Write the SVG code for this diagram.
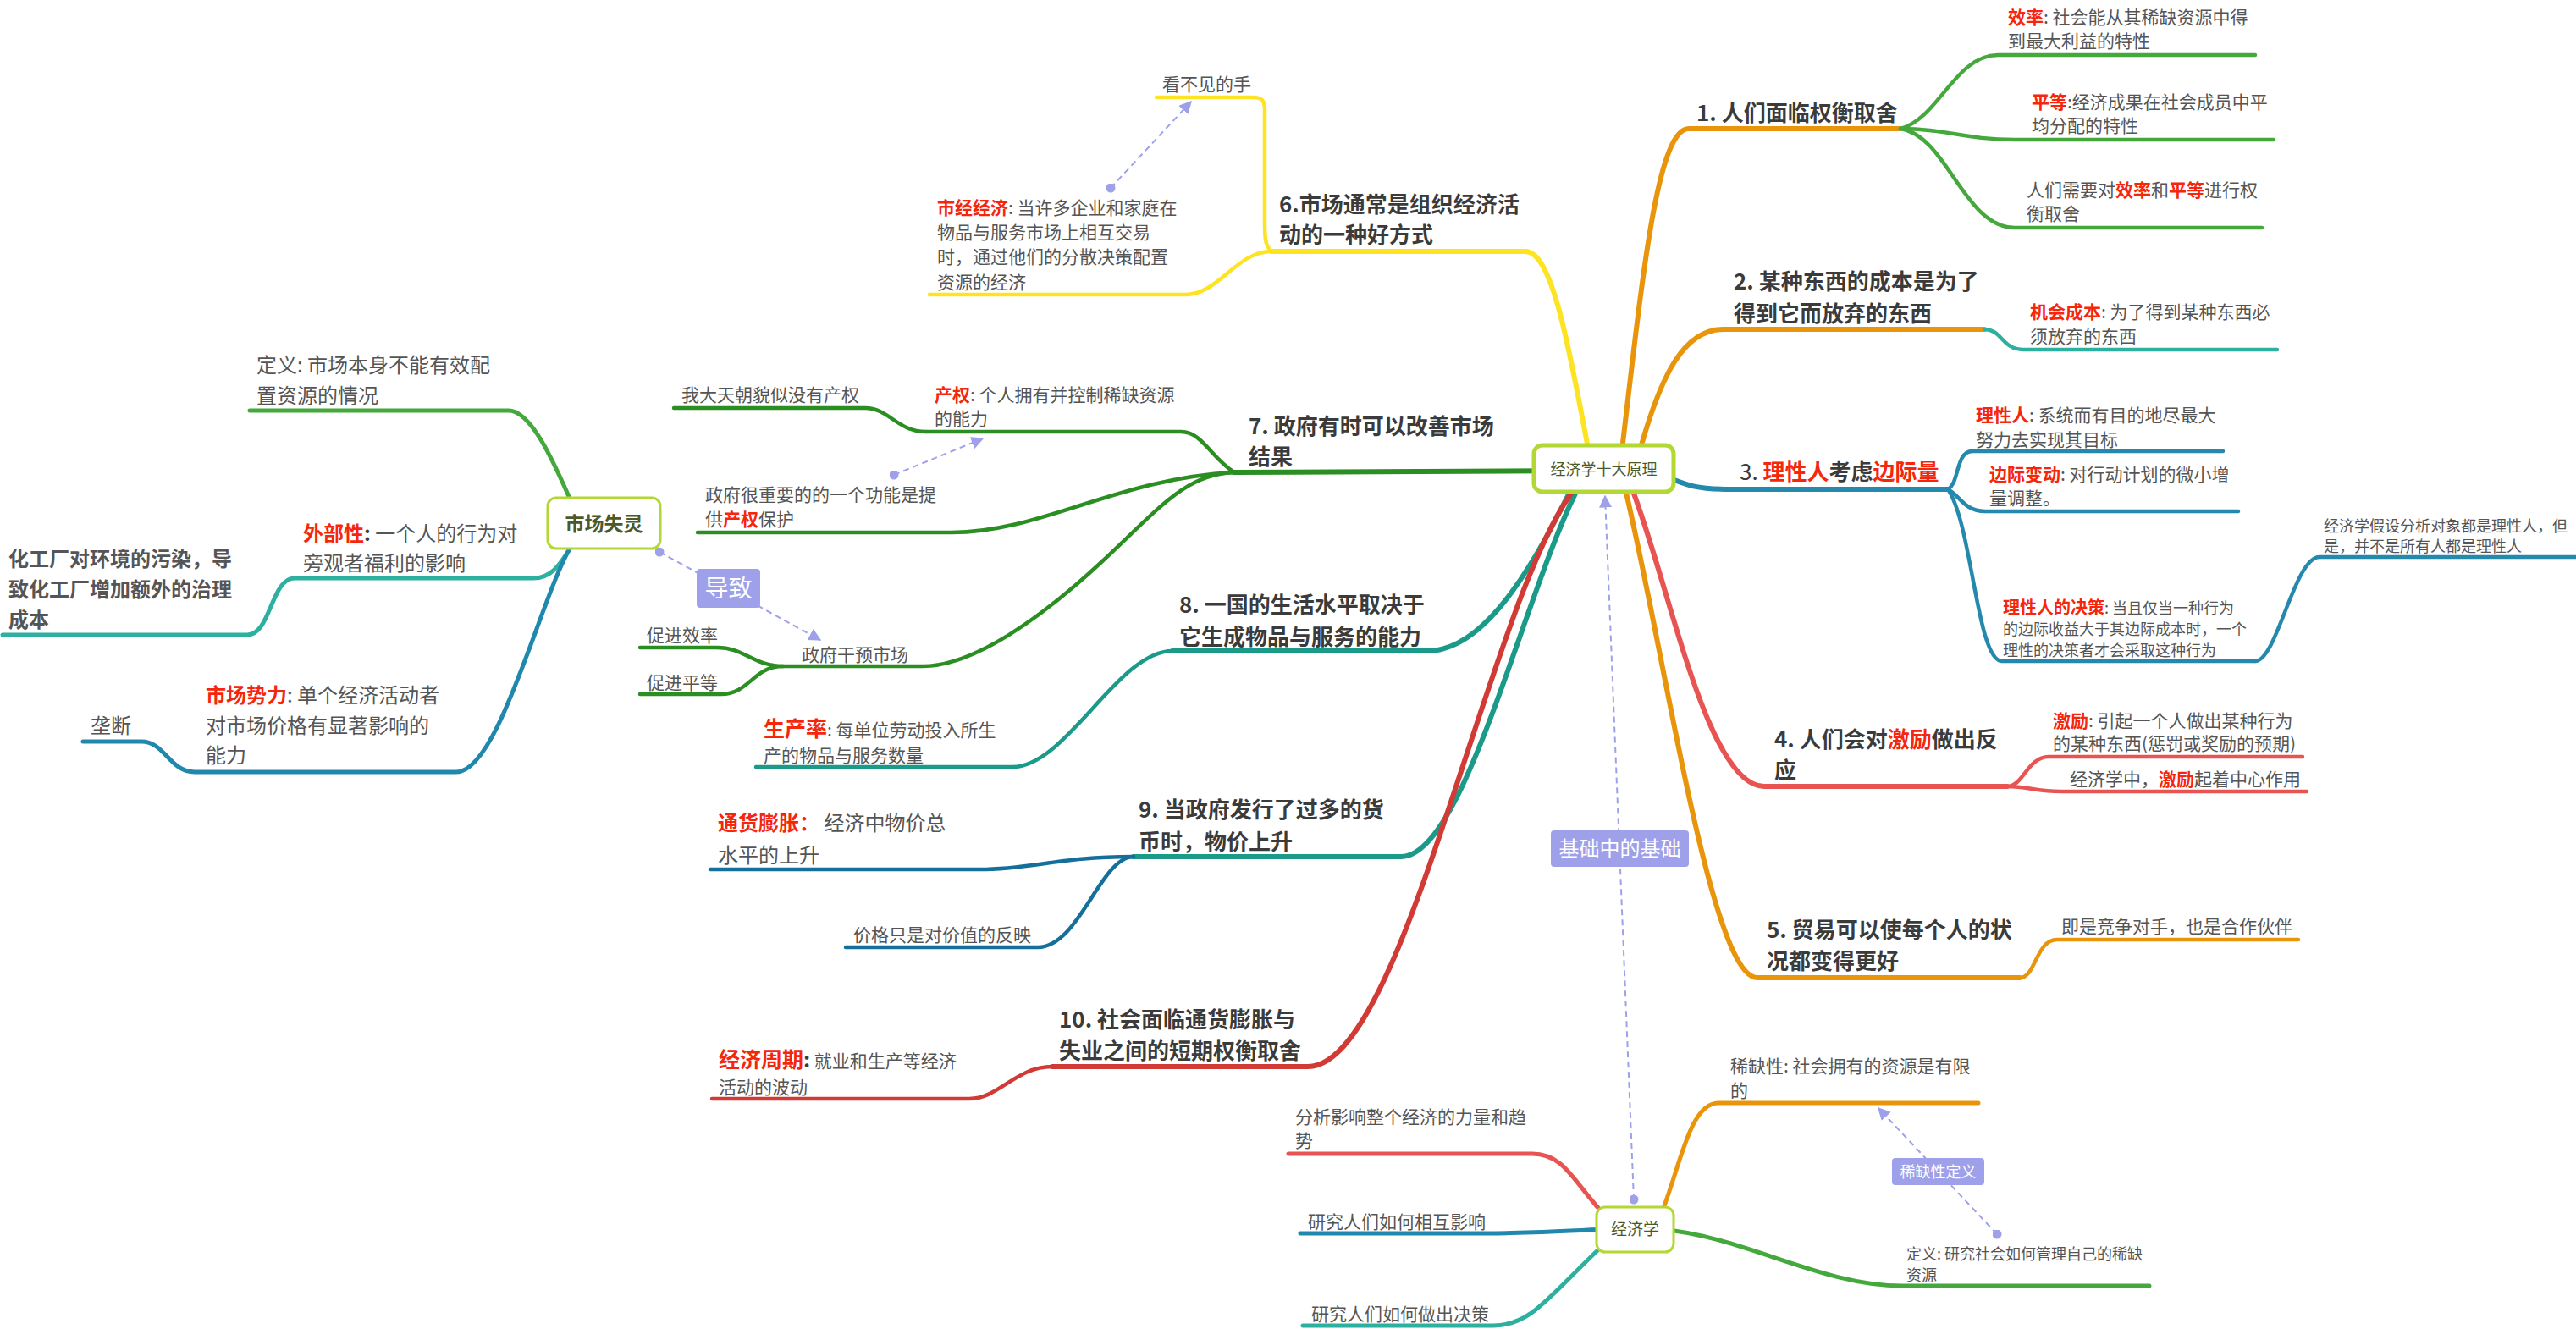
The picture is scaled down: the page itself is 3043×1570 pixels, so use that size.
<svg xmlns="http://www.w3.org/2000/svg" width="3043" height="1570" viewBox="0 0 3043 1570">
<style>
text { font-family: "Noto Sans CJK SC", "Liberation Sans", sans-serif; }
.t { font-size:26px; font-weight:bold; fill:#3b3b3b; }
.n { font-size:21px; fill:#555; }
.s { font-size:18px; fill:#555; }
.m { font-size:24px; fill:#555; }
.r { fill:#f5260c; font-weight:bold; }
.c { fill:none; stroke-linecap:round; stroke-linejoin:round; }
.w6 { stroke-width:6; }
.w5 { stroke-width:5; }
.w4 { stroke-width:4.5; }
.rel { fill:none; stroke:#9ea1e9; stroke-width:2; stroke-dasharray:7 5; marker-start:url(#dot); marker-end:url(#arr); }
.lbl { fill:#9ea1e9; }
.lt { fill:#fff; }
.box { fill:#fff; stroke:#b3d834; }
.bt { fill:#4b5a2b; }
</style>
<defs>
<marker id="arr" viewBox="0 0 10 10" refX="9" refY="5" markerWidth="15" markerHeight="15" markerUnits="userSpaceOnUse" orient="auto"><path d="M0,0 L10,5 L0,10 z" fill="#9ea1e9"/></marker>
<marker id="dot" viewBox="0 0 10 10" refX="5" refY="5" markerWidth="11" markerHeight="11" markerUnits="userSpaceOnUse"><circle cx="5" cy="5" r="5" fill="#9ea1e9"/></marker>
</defs>
<rect width="3043" height="1570" fill="#fff"/>

<g id="connectors">
<!-- root branches -->
<path class="c w6" stroke="#e9950c" d="M1915 540 C1940 330 1957 152 1995 152 L2245 152"/>
<path class="c w6" stroke="#e9950c" d="M1935 540 C1962 440 1990 389 2036 389 L2344 389"/>
<path class="c w6" stroke="#2589ad" d="M1960 560 C1990 572 2000 578 2044 578 L2301 578"/>
<path class="c w6" stroke="#e85452" d="M1925 570 C1970 680 2015 929 2084 929 L2371 929"/>
<path class="c w6" stroke="#e9950c" d="M1918 570 C1965 760 2020 1155 2076 1155 L2386 1155"/>
<path class="c w6" stroke="#fde322" d="M1878 540 C1855 420 1835 297 1802 297 L1502 297"/>
<path class="c w6" stroke="#2b8e22" d="M1870 556 L1458 558"/>
<path class="c w6" stroke="#1b9a89" d="M1860 570 C1820 650 1760 769 1686 769 L1385 769"/>
<path class="c w6" stroke="#1b9a89" d="M1865 575 C1800 700 1730 1012 1655 1012 L1339 1012"/>
<path class="c w6" stroke="#d23a35" d="M1862 575 C1760 700 1660 1260 1545 1260 L1243 1260"/>
<!-- 1 children -->
<path class="c w4" stroke="#45a83c" d="M2245 152 C2290 140 2310 65 2360 65 L2664 65"/>
<path class="c w4" stroke="#45a83c" d="M2245 152 C2300 152 2320 165 2380 165 L2686 165"/>
<path class="c w4" stroke="#45a83c" d="M2245 152 C2300 160 2320 269 2380 269 L2672 269"/>
<!-- 2 child -->
<path class="c w4" stroke="#2db0a0" d="M2344 389 C2365 389 2365 413 2390 413 L2690 413"/>
<!-- 3 children -->
<path class="c w4" stroke="#2589ad" d="M2301 578 C2315 570 2310 533 2330 533 L2626 533"/>
<path class="c w4" stroke="#2589ad" d="M2301 578 C2315 585 2320 604 2345 604 L2644 604"/>
<path class="c w4" stroke="#2589ad" d="M2301 578 C2330 620 2335 781 2365 781 L2664 781"/>
<path class="c w4" stroke="#2589ad" d="M2664 781 C2690 781 2710 658 2740 658 L3043 658"/>
<!-- 4 children -->
<path class="c w4" stroke="#e85452" d="M2371 929 C2390 929 2395 894 2420 894 L2720 894"/>
<path class="c w4" stroke="#e85452" d="M2371 929 C2395 929 2405 935 2435 935 L2725 935"/>
<!-- 5 child -->
<path class="c w4" stroke="#e9950c" d="M2386 1155 C2405 1155 2405 1110 2430 1110 L2715 1110"/>
<!-- 6 children -->
<path class="c w4" stroke="#fde322" d="M1502 297 C1494 290 1494 280 1494 260 L1494 130 C1494 118 1490 115 1480 115 L1366 115"/>
<path class="c w4" stroke="#fde322" d="M1502 297 C1460 297 1440 348 1400 348 L1098 348"/>
<!-- 7 children -->
<path class="c w4" stroke="#2b8e22" d="M1458 558 C1430 540 1420 510 1395 510 L1094 510"/>
<path class="c w4" stroke="#2b8e22" d="M1094 510 C1060 510 1050 482 1022 482 L796 482"/>
<path class="c w4" stroke="#2b8e22" d="M1458 558 C1320 565 1230 629 1124 629 L824 629"/>
<path class="c w4" stroke="#2b8e22" d="M1458 558 C1400 560 1370 600 1300 665 S1150 787 1090 787 L925 787"/>
<path class="c w4" stroke="#2b8e22" d="M925 787 C890 787 880 765 847 765 L756 765"/>
<path class="c w4" stroke="#2b8e22" d="M925 787 C890 787 885 820 852 820 L756 820"/>
<!-- 8 child -->
<path class="c w4" stroke="#1b9a89" d="M1385 769 C1320 769 1260 906 1196 906 L893 906"/>
<!-- 9 children -->
<path class="c w4" stroke="#14709a" d="M1339 1012 C1250 1012 1220 1027 1157 1027 L839 1027"/>
<path class="c w4" stroke="#14709a" d="M1339 1012 C1300 1012 1275 1119 1226 1119 L999 1119"/>
<!-- 10 child -->
<path class="c w4" stroke="#d23a35" d="M1243 1260 C1200 1260 1180 1298 1145 1298 L841 1298"/>
<!-- 市场失灵 -->
<path class="c w5" stroke="#45a83c" d="M678 600 C660 560 630 485 601 485 L295 485"/>
<path class="c w5" stroke="#2db0a0" d="M675 645 C660 670 650 683 630 683 L348 683 C320 683 320 750 292 750 L3 750"/>
<path class="c w5" stroke="#2188ad" d="M675 645 C640 700 590 912 539 912 L230 912 C200 912 195 876 167 876 L98 876"/>
<!-- 经济学 -->
<path class="c w5" stroke="#e9950c" d="M1960 1440 C1985 1380 1995 1303 2030 1303 L2337 1303"/>
<path class="c w5" stroke="#45a83c" d="M1960 1452 C2060 1460 2150 1519 2247 1519 L2539 1519"/>
<path class="c w5" stroke="#e85452" d="M1900 1440 C1860 1400 1850 1363 1810 1363 L1522 1363"/>
<path class="c w5" stroke="#2188ad" d="M1900 1452 C1830 1455 1800 1457 1758 1457 L1536 1457"/>
<path class="c w5" stroke="#2db0a0" d="M1900 1465 C1830 1530 1810 1566 1764 1566 L1539 1566"/>
</g>

<g id="relations">
<path class="rel" d="M1930 1417 L1896 586"/>
<path class="rel" d="M779 652 L969 756"/>
<path class="rel" d="M1312 222 L1407 120"/>
<path class="rel" d="M1056 561 L1161 518"/>
<path class="rel" d="M2359 1458 L2219 1309"/>
</g>

<g id="label-jichu"><rect class="lbl" x="1832" y="981" width="163" height="43" rx="4"/><text class="lt" x="1913.5" y="1011" font-size="24" text-anchor="middle">基础中的基础</text></g>
<g id="label-daozhi"><rect class="lbl" x="823" y="672" width="75" height="46" rx="4"/><text class="lt" x="860.5" y="705" font-size="28" text-anchor="middle">导致</text></g>
<g id="label-xique"><rect class="lbl" x="2235" y="1368" width="109" height="32" rx="4"/><text class="lt" x="2289.5" y="1391" font-size="18" text-anchor="middle">稀缺性定义</text></g>

<g id="root"><rect class="box" x="1812" y="526" width="165" height="55" rx="10" stroke-width="5"/><text class="bt" x="1894.5" y="561" font-size="18" text-anchor="middle">经济学十大原理</text></g>
<g id="shichangshiling"><rect class="box" x="647" y="588" width="133" height="60" rx="10" stroke-width="3"/><text class="bt" x="713.5" y="627" font-size="23" font-weight="bold" text-anchor="middle">市场失灵</text></g>
<g id="jingjixue"><rect class="box" x="1886" y="1426" width="91" height="53" rx="10" stroke-width="3"/><text class="bt" x="1931.5" y="1459" font-size="19" text-anchor="middle">经济学</text></g>

<g id="p1"><text class="t" x="2004" y="143">1. 人们面临权衡取舍</text></g>
<g id="p1a"><text class="n" x="2372" y="28"><tspan class="r">效率</tspan>: 社会能从其稀缺资源中得</text><text class="n" x="2372" y="56">到最大利益的特性</text></g>
<g id="p1b"><text class="n" x="2400" y="128"><tspan class="r">平等</tspan>:经济成果在社会成员中平</text><text class="n" x="2400" y="156">均分配的特性</text></g>
<g id="p1c"><text class="n" x="2394" y="232">人们需要对<tspan class="r">效率</tspan>和<tspan class="r">平等</tspan>进行权</text><text class="n" x="2394" y="260">衡取舍</text></g>

<g id="p2"><text class="t" x="2048" y="342">2. 某种东西的成本是为了</text><text class="t" x="2048" y="380">得到它而放弃的东西</text></g>
<g id="p2a"><text class="n" x="2398" y="376"><tspan class="r">机会成本</tspan>: 为了得到某种东西必</text><text class="n" x="2398" y="405">须放弃的东西</text></g>

<g id="p3"><text class="t" x="2055" y="567"><tspan font-weight="normal">3. </tspan><tspan class="r">理性人</tspan>考虑<tspan class="r">边际量</tspan></text></g>
<g id="p3a"><text class="n" x="2334" y="498"><tspan class="r">理性人</tspan>: 系统而有目的地尽最大</text><text class="n" x="2334" y="527">努力去实现其目标</text></g>
<g id="p3b"><text class="n" x="2350" y="568"><tspan class="r">边际变动</tspan>: 对行动计划的微小增</text><text class="n" x="2350" y="596">量调整。</text></g>
<g id="p3c"><text class="s" x="2366" y="725"><tspan class="r" font-size="20">理性人的决策</tspan>: 当且仅当一种行为</text><text class="s" x="2366" y="750">的边际收益大于其边际成本时，一个</text><text class="s" x="2366" y="775">理性的决策者才会采取这种行为</text></g>
<g id="p3c1"><text class="s" x="2745" y="628">经济学假设分析对象都是理性人，但</text><text class="s" x="2745" y="652">是，并不是所有人都是理性人</text></g>

<g id="p4"><text class="t" x="2096" y="883">4. 人们会对<tspan class="r">激励</tspan>做出反</text><text class="t" x="2096" y="919">应</text></g>
<g id="p4a"><text class="n" x="2425" y="859"><tspan class="r">激励</tspan>: 引起一个人做出某种行为</text><text class="n" x="2425" y="886">的某种东西(惩罚或奖励的预期)</text></g>
<g id="p4b"><text class="n" x="2445" y="928">经济学中，<tspan class="r">激励</tspan>起着中心作用</text></g>

<g id="p5"><text class="t" x="2087" y="1108">5. 贸易可以使每个人的状</text><text class="t" x="2087" y="1145">况都变得更好</text></g>
<g id="p5a"><text class="n" x="2435" y="1102">即是竞争对手，也是合作伙伴</text></g>

<g id="p6"><text class="t" x="1511" y="251">6.市场通常是组织经济活</text><text class="t" x="1511" y="287">动的一种好方式</text></g>
<g id="p6a"><text class="n" x="1373" y="107">看不见的手</text></g>
<g id="p6b"><text class="n" x="1107" y="253"><tspan class="r">市经经济</tspan>: 当许多企业和家庭在</text><text class="n" x="1107" y="282">物品与服务市场上相互交易</text><text class="n" x="1107" y="311">时，通过他们的分散决策配置</text><text class="n" x="1107" y="341">资源的经济</text></g>

<g id="p7"><text class="t" x="1475" y="513">7. 政府有时可以改善市场</text><text class="t" x="1475" y="549">结果</text></g>
<g id="p7a"><text class="n" x="1104" y="474"><tspan class="r">产权</tspan>: 个人拥有并控制稀缺资源</text><text class="n" x="1104" y="502">的能力</text></g>
<g id="p7a1"><text class="n" x="805" y="474">我大天朝貌似没有产权</text></g>
<g id="p7b"><text class="n" x="833" y="592">政府很重要的的一个功能是提</text><text class="n" x="833" y="621">供<tspan class="r">产权</tspan>保护</text></g>
<g id="p7c"><text class="n" x="947" y="781">政府干预市场</text></g>
<g id="p7c1"><text class="n" x="764" y="758">促进效率</text></g>
<g id="p7c2"><text class="n" x="764" y="814">促进平等</text></g>

<g id="p8"><text class="t" x="1393" y="724">8. 一国的生活水平取决于</text><text class="t" x="1393" y="762">它生成物品与服务的能力</text></g>
<g id="p8a"><text class="n" x="902" y="870"><tspan class="r" font-size="25">生产率</tspan>: 每单位劳动投入所生</text><text class="n" x="902" y="900">产的物品与服务数量</text></g>

<g id="p9"><text class="t" x="1345" y="966">9. 当政府发行了过多的货</text><text class="t" x="1345" y="1004">币时，物价上升</text></g>
<g id="p9a"><text class="m" font-size="26" x="848" y="981"><tspan class="r">通货膨胀：</tspan> 经济中物价总</text><text class="m" font-size="26" x="848" y="1019">水平的上升</text></g>
<g id="p9b"><text class="n" x="1008" y="1112">价格只是对价值的反映</text></g>

<g id="p10"><text class="t" x="1251" y="1214">10. 社会面临通货膨胀与</text><text class="t" x="1251" y="1251">失业之间的短期权衡取舍</text></g>
<g id="p10a"><text class="n" x="849" y="1261"><tspan class="r" font-size="25">经济周期</tspan><tspan font-weight="bold" font-size="25" fill="#3b3b3b">:</tspan> 就业和生产等经济</text><text class="n" x="849" y="1292">活动的波动</text></g>

<g id="m1"><text class="m" x="303" y="440">定义: 市场本身不能有效配</text><text class="m" x="303" y="476">置资源的情况</text></g>
<g id="m2"><text class="m" x="358" y="639"><tspan class="r">外部性</tspan><tspan font-weight="bold" fill="#3b3b3b">:</tspan> 一个人的行为对</text><text class="m" x="358" y="674">旁观者福利的影响</text></g>
<g id="m2a"><text class="m" font-weight="bold" x="10" y="669">化工厂对环境的污染，导</text><text class="m" font-weight="bold" x="10" y="705">致化工厂增加额外的治理</text><text class="m" font-weight="bold" x="10" y="741">成本</text></g>
<g id="m3"><text class="m" x="243" y="830"><tspan class="r">市场势力</tspan>: 单个经济活动者</text><text class="m" x="243" y="866">对市场价格有显著影响的</text><text class="m" x="243" y="901">能力</text></g>
<g id="m3a"><text class="m" x="107" y="866">垄断</text></g>

<g id="e1"><text class="n" x="2044" y="1267">稀缺性: 社会拥有的资源是有限</text><text class="n" x="2044" y="1296">的</text></g>
<g id="e2"><text class="s" x="2252" y="1488">定义: 研究社会如何管理自己的稀缺</text><text class="s" x="2252" y="1513">资源</text></g>
<g id="e3"><text class="n" x="1530" y="1327">分析影响整个经济的力量和趋</text><text class="n" x="1530" y="1355">势</text></g>
<g id="e4"><text class="n" x="1545" y="1451">研究人们如何相互影响</text></g>
<g id="e5"><text class="n" x="1549" y="1560">研究人们如何做出决策</text></g>
</svg>
